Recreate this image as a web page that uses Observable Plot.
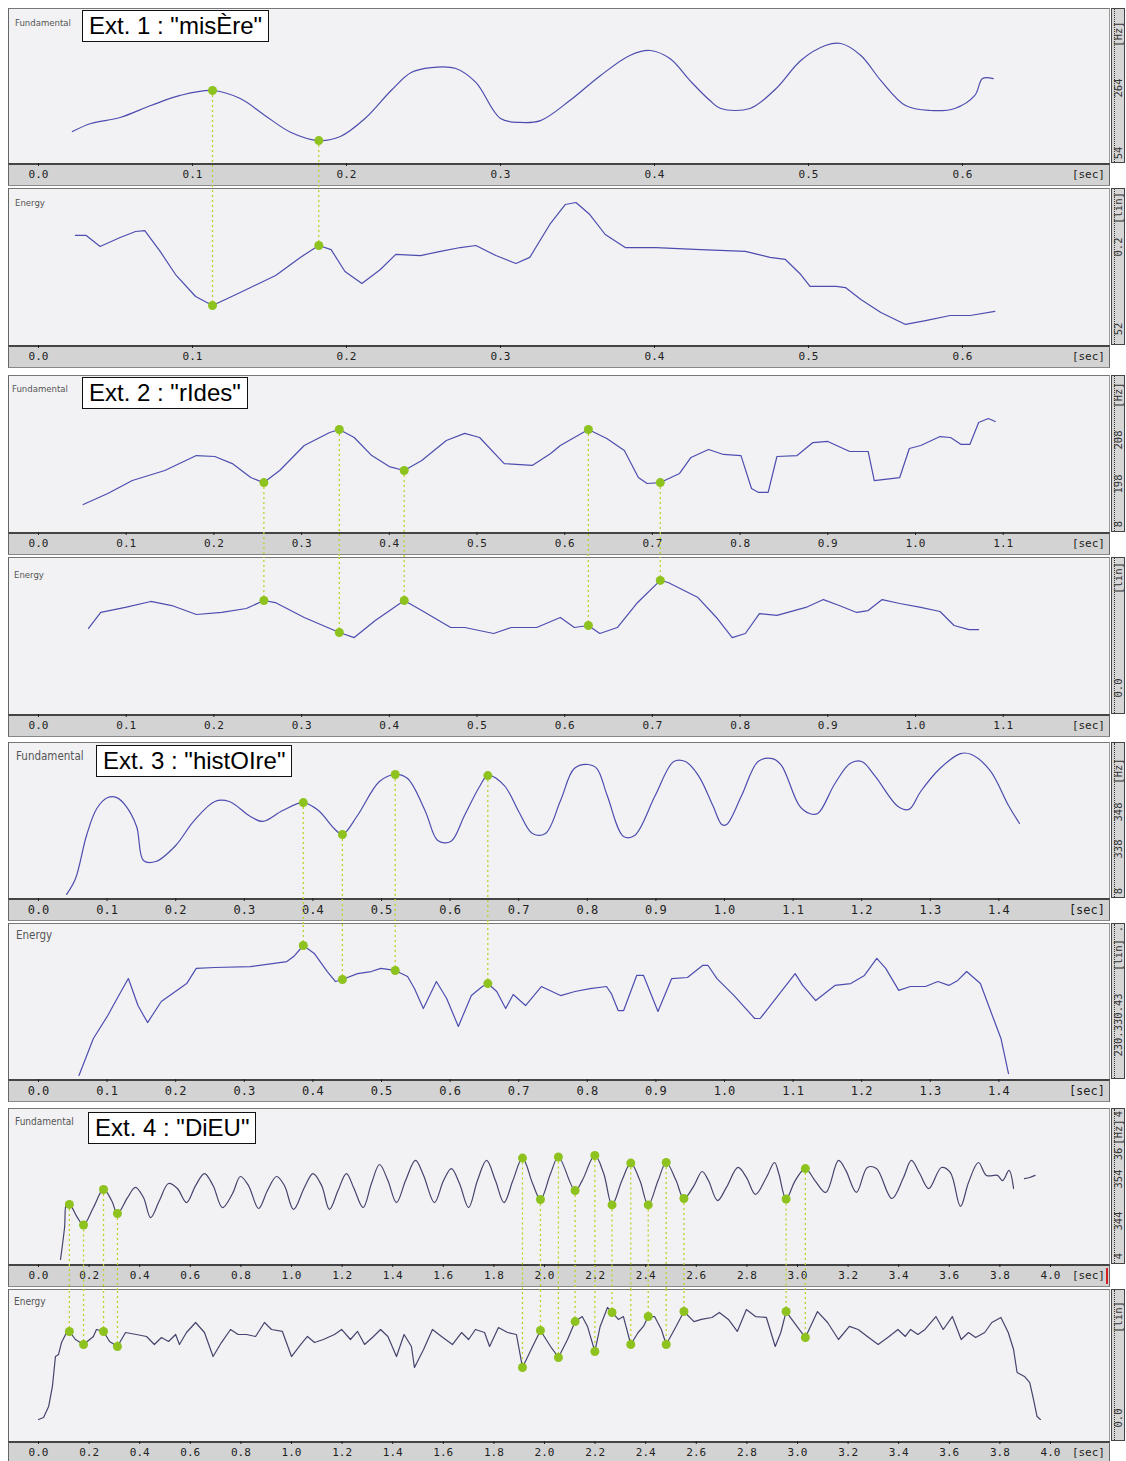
<!DOCTYPE html>
<html><head><meta charset="utf-8">
<script src="https://cdn.jsdelivr.net/npm/d3@7"></script>
<script src="https://cdn.jsdelivr.net/npm/@observablehq/plot@0.6"></script>
<style>
html,body{margin:0;padding:0;background:#fff}
body{width:1126px;height:1461px;overflow:hidden;position:relative;font-family:"Liberation Sans",Arial,sans-serif}
.a{position:absolute}
.pbg{background:#f2f2f4;border-left:1px solid #666;border-top:1px solid #777;border-right:1px solid #999;box-sizing:border-box}
.bar{background:#d3d3d3;border-top:2px solid #444;border-bottom:1px solid #888;border-left:1px solid #666;border-right:1px solid #666;box-sizing:border-box}
.strip{background:#d6d6d6;border:1px solid #444;box-sizing:border-box;overflow:hidden}
.strip .tk{position:absolute;left:0;top:0;bottom:0;width:2px;border-right:1px dotted #333}
.rl{position:absolute;left:50%;white-space:nowrap;font-family:"DejaVu Sans Mono",monospace;font-size:10.5px;color:#333;transform:translate(-50%,-50%) rotate(-90deg)}
.lab{font-family:"DejaVu Sans Condensed","DejaVu Sans",sans-serif;color:#555;white-space:nowrap}
.title{background:#fff;border:1.5px solid #111;font-size:24px;line-height:30px;padding:0 6px;color:#000;white-space:nowrap}
.sec{font-family:"DejaVu Sans Mono",monospace;color:#222;background:#d3d3d3;padding-left:3px;white-space:nowrap}
</style></head><body>
<script>
// ---------- data: time (s) , relative level (0 = panel bottom, 100 = panel top) ----------
const ext1Title = 'Ext. 1 : "misÈre"';
const ext1Ticks = [0, 0.1, 0.2, 0.3, 0.4, 0.5, 0.6];
const ext1Fundamental = [[0.022,20.6],[0.034,25.8],[0.053,29.7],[0.073,37.4],[0.092,43.9],[0.113,47.1],[0.131,41.9],[0.147,31.0],[0.164,20.0],[0.182,14.8],[0.196,17.4],[0.212,29.0],[0.229,47.1],[0.242,58.7],[0.255,61.9],[0.271,61.3],[0.284,52.3],[0.300,29.0],[0.313,26.5],[0.326,27.7],[0.345,40.6],[0.365,56.8],[0.384,69.7],[0.397,72.9],[0.410,67.7],[0.423,53.5],[0.436,40.6],[0.443,35.5],[0.462,35.5],[0.479,48.4],[0.495,66.5],[0.511,76.1],[0.521,77.4],[0.534,69.7],[0.547,53.5],[0.563,37.4],[0.579,34.2],[0.595,35.5],[0.608,43.9],[0.613,54.8],[0.620,54.8]];
const ext1Energy = [[0.024,70.1],[0.031,70.1],[0.040,63.1],[0.053,68.8],[0.063,72.6],[0.069,73.2],[0.079,59.9],[0.089,45.2],[0.102,31.2],[0.113,25.5],[0.131,33.8],[0.154,44.6],[0.170,56.1],[0.182,63.7],[0.190,61.1],[0.199,47.1],[0.210,39.5],[0.222,48.4],[0.232,58.0],[0.248,57.3],[0.261,59.9],[0.274,62.4],[0.284,63.7],[0.297,57.3],[0.310,52.2],[0.319,56.1],[0.332,77.1],[0.342,89.8],[0.349,91.1],[0.358,83.4],[0.368,70.7],[0.381,62.4],[0.401,62.4],[0.430,61.1],[0.459,59.9],[0.475,56.1],[0.485,54.8],[0.495,45.2],[0.501,37.6],[0.518,37.6],[0.524,36.9],[0.534,29.3],[0.547,21.0],[0.563,13.4],[0.576,15.9],[0.592,19.1],[0.605,19.1],[0.621,21.7]];
const ext1MarkTimes = [0.113, 0.182];
const ext1MarkF0 = [47.1, 14.8];
const ext1MarkEnergy = [25.5, 63.7];
const ext1F0Axis = [["54",7],["264",49],["[Hz]",84]];
const ext1EnergyAxis = [["52",11],["0.2",63],["[lin]",88]];

const ext2Title = 'Ext. 2 : "rIdes"';
const ext2Ticks = [0, 0.1, 0.2, 0.3, 0.4, 0.5, 0.6, 0.7, 0.8, 0.9, 1.0, 1.1];
const ext2Fundamental = [[0.051,17.8],[0.079,24.8],[0.107,33.1],[0.144,39.5],[0.180,49.0],[0.201,48.4],[0.221,43.9],[0.242,35.0],[0.257,31.8],[0.275,39.5],[0.303,55.4],[0.332,63.7],[0.343,65.6],[0.360,60.5],[0.380,49.0],[0.400,42.0],[0.417,39.5],[0.437,45.9],[0.465,58.6],[0.486,63.1],[0.503,60.5],[0.531,43.9],[0.563,42.7],[0.584,50.3],[0.595,55.4],[0.627,65.6],[0.648,59.9],[0.668,52.2],[0.684,35.0],[0.694,31.2],[0.709,31.8],[0.731,37.6],[0.744,47.8],[0.764,52.9],[0.781,49.7],[0.801,49.0],[0.813,28.0],[0.821,25.5],[0.832,25.5],[0.842,48.4],[0.865,49.0],[0.883,57.3],[0.900,58.0],[0.925,51.6],[0.946,51.6],[0.953,33.1],[0.982,35.0],[0.993,53.5],[1.006,55.4],[1.028,61.1],[1.040,60.5],[1.052,56.1],[1.062,56.1],[1.072,70.1],[1.083,72.6],[1.091,70.7]];
const ext2Energy = [[0.057,54.8],[0.071,65.0],[0.099,68.2],[0.128,72.0],[0.152,69.4],[0.180,63.7],[0.209,65.0],[0.237,67.5],[0.257,72.6],[0.270,71.3],[0.303,61.8],[0.343,52.2],[0.360,49.0],[0.384,59.9],[0.417,72.6],[0.437,66.2],[0.470,55.4],[0.486,55.4],[0.519,51.6],[0.539,55.4],[0.568,55.4],[0.595,61.8],[0.611,55.4],[0.627,56.7],[0.640,51.6],[0.660,55.4],[0.682,70.7],[0.709,85.4],[0.718,84.1],[0.752,74.5],[0.773,61.8],[0.791,49.0],[0.806,51.6],[0.822,64.3],[0.842,63.1],[0.875,68.2],[0.895,73.2],[0.913,69.4],[0.933,65.0],[0.946,66.2],[0.962,73.2],[0.982,70.7],[1.006,68.2],[1.028,65.6],[1.044,56.7],[1.061,54.1],[1.072,54.1]];
const ext2MarkTimes = [0.257, 0.343, 0.417, 0.627, 0.709];
const ext2MarkF0 = [31.8, 65.6, 39.5, 65.6, 31.8];
const ext2MarkEnergy = [72.6, 52.2, 72.6, 56.7, 85.4];
const ext2F0Axis = [["8",6],["198",31],["208",59],["[Hz]",88]];
const ext2EnergyAxis = [["0.0",17],["[lin]",87]];

const ext3Title = 'Ext. 3 : "histOIre"';
const ext3Ticks = [0, 0.1, 0.2, 0.3, 0.4, 0.5, 0.6, 0.7, 0.8, 0.9, 1.0, 1.1, 1.2, 1.3, 1.4];
const ext3Fundamental = [[0.041,2.6],[0.054,12.8],[0.070,40.4],[0.085,57.7],[0.101,64.7],[0.114,64.7],[0.127,59.6],[0.143,46.2],[0.153,24.4],[0.171,23.7],[0.200,34.0],[0.226,49.4],[0.257,62.2],[0.278,62.2],[0.309,52.6],[0.327,49.4],[0.356,56.4],[0.386,61.5],[0.408,56.4],[0.431,44.9],[0.443,41.0],[0.465,53.2],[0.497,75.0],[0.520,79.5],[0.538,76.9],[0.564,55.8],[0.582,37.2],[0.601,36.5],[0.621,53.2],[0.643,71.8],[0.655,78.8],[0.679,72.4],[0.700,55.8],[0.720,41.7],[0.739,41.7],[0.761,62.8],[0.781,83.3],[0.801,85.9],[0.814,83.3],[0.829,66.0],[0.853,39.7],[0.869,40.4],[0.899,66.0],[0.926,87.8],[0.943,87.8],[0.962,78.8],[0.983,59.6],[0.996,47.4],[1.003,47.4],[1.025,66.0],[1.049,87.8],[1.070,89.7],[1.083,85.3],[1.109,59.6],[1.124,54.5],[1.136,54.5],[1.161,73.7],[1.183,86.5],[1.200,87.8],[1.219,78.8],[1.253,59.0],[1.269,57.1],[1.286,68.6],[1.314,83.3],[1.344,92.9],[1.360,92.3],[1.387,82.1],[1.414,59.6],[1.430,48.1]];
const ext3Energy = [[0.059,2.6],[0.080,26.3],[0.101,41.0],[0.117,53.8],[0.131,64.7],[0.145,47.4],[0.159,36.5],[0.179,50.0],[0.216,61.5],[0.230,71.2],[0.257,71.8],[0.309,72.4],[0.362,75.6],[0.372,78.8],[0.386,85.9],[0.402,80.8],[0.421,69.2],[0.433,62.8],[0.443,64.1],[0.465,67.9],[0.485,69.2],[0.499,71.2],[0.520,69.9],[0.538,66.0],[0.548,58.3],[0.561,45.5],[0.580,62.8],[0.595,51.9],[0.612,34.0],[0.631,53.8],[0.647,59.6],[0.655,61.5],[0.668,56.4],[0.681,45.5],[0.692,54.5],[0.710,47.4],[0.733,59.6],[0.761,53.8],[0.782,56.4],[0.804,58.3],[0.828,59.6],[0.835,55.1],[0.845,44.2],[0.853,44.2],[0.872,66.7],[0.882,66.7],[0.903,43.6],[0.923,64.7],[0.946,65.4],[0.968,73.1],[0.976,73.1],[0.989,64.7],[1.014,53.8],[1.044,39.1],[1.052,39.1],[1.078,53.8],[1.103,67.9],[1.114,60.3],[1.133,50.6],[1.161,60.3],[1.184,61.5],[1.204,66.7],[1.222,77.6],[1.235,71.2],[1.254,57.1],[1.271,59.6],[1.293,59.6],[1.311,62.8],[1.327,60.3],[1.340,63.5],[1.353,69.2],[1.373,61.5],[1.392,39.1],[1.403,26.3],[1.414,3.8]];
const ext3MarkTimes = [0.386, 0.443, 0.520, 0.655];
const ext3MarkF0 = [61.5, 41.0, 79.5, 78.8];
const ext3MarkEnergy = [85.9, 64.1, 69.9, 61.5];
const ext3F0Axis = [["8",5],["338",32],["348",56],["[Hz]",82]];
const ext3EnergyAxis = [["230.330.43",35],["[lin]",80],[".",97]];

const ext4Title = 'Ext. 4 : "DiEU"';
const ext4Ticks = [0, 0.2, 0.4, 0.6, 0.8, 1.0, 1.2, 1.4, 1.6, 1.8, 2.0, 2.2, 2.4, 2.6, 2.8, 3.0, 3.2, 3.4, 3.6, 3.8, 4.0];
const ext4Fundamental = [[0.087,3.2],[0.103,23.7],[0.111,39.1],[0.124,38.5],[0.154,30.1],[0.178,25.3],[0.217,36.5],[0.257,48.1],[0.289,41.0],[0.312,32.7],[0.352,42.9],[0.383,49.4],[0.415,42.9],[0.443,30.1],[0.478,41.0],[0.514,51.9],[0.549,48.7],[0.585,39.7],[0.621,50.6],[0.656,58.3],[0.690,50.6],[0.727,36.5],[0.767,45.5],[0.798,56.4],[0.830,50.6],[0.870,35.9],[0.905,47.4],[0.941,56.4],[0.972,50.6],[1.008,35.3],[1.051,49.4],[1.085,58.3],[1.119,50.6],[1.150,35.3],[1.184,47.4],[1.217,58.3],[1.247,48.7],[1.283,36.5],[1.316,51.9],[1.348,64.1],[1.381,53.8],[1.415,39.7],[1.451,53.8],[1.490,66.7],[1.522,57.1],[1.565,39.7],[1.601,53.8],[1.632,61.5],[1.664,51.9],[1.700,36.5],[1.735,53.8],[1.771,66.7],[1.806,53.8],[1.840,39.7],[1.875,53.8],[1.913,68.2],[1.953,51.9],[1.984,41.7],[2.024,58.3],[2.055,68.9],[2.121,47.4],[2.149,53.8],[2.199,69.9],[2.234,58.3],[2.267,38.2],[2.306,53.8],[2.341,65.0],[2.377,53.8],[2.410,38.2],[2.449,53.8],[2.481,65.4],[2.520,53.8],[2.551,42.3],[2.591,50.6],[2.623,59.6],[2.648,53.8],[2.684,41.0],[2.719,49.4],[2.765,62.2],[2.798,55.8],[2.834,44.9],[2.877,55.8],[2.909,65.4],[2.926,58.3],[2.955,42.0],[2.991,53.8],[3.031,61.5],[3.069,53.8],[3.112,46.2],[3.162,66.7],[3.191,60.3],[3.233,46.2],[3.276,62.2],[3.312,61.5],[3.373,42.3],[3.419,55.8],[3.450,66.7],[3.483,58.3],[3.519,48.7],[3.569,62.2],[3.604,59.0],[3.644,37.2],[3.676,52.6],[3.715,65.4],[3.747,57.1],[3.790,57.1],[3.811,53.8],[3.836,60.3],[3.854,48.7],[3.870,null],[3.897,55.1],[3.918,55.8],[3.939,57.1]];
const ext4Energy = [[0.000,14.5],[0.020,15.8],[0.040,23.0],[0.055,36.2],[0.067,55.9],[0.079,57.2],[0.091,65.1],[0.111,71.7],[0.122,72.4],[0.146,67.1],[0.178,63.8],[0.217,69.1],[0.229,73.7],[0.257,72.4],[0.281,65.8],[0.312,62.5],[0.344,71.7],[0.387,70.4],[0.427,69.1],[0.458,63.8],[0.486,68.4],[0.514,65.8],[0.542,70.4],[0.557,63.8],[0.585,71.7],[0.621,78.3],[0.656,71.7],[0.690,55.9],[0.723,65.1],[0.759,73.7],[0.789,70.4],[0.822,70.4],[0.858,69.1],[0.893,78.3],[0.921,73.7],[0.964,72.4],[1.000,55.9],[1.036,63.8],[1.063,69.1],[1.091,65.1],[1.126,67.1],[1.170,70.4],[1.198,73.7],[1.233,67.1],[1.261,72.4],[1.289,63.8],[1.324,69.1],[1.352,73.7],[1.381,69.1],[1.415,55.9],[1.445,70.4],[1.474,62.5],[1.486,48.7],[1.522,60.5],[1.557,73.7],[1.593,69.1],[1.636,63.8],[1.672,71.7],[1.700,67.1],[1.727,73.7],[1.763,71.7],[1.783,62.5],[1.818,75.0],[1.854,71.7],[1.889,70.4],[1.913,48.7],[1.953,62.5],[1.984,73.0],[2.024,62.5],[2.055,55.3],[2.091,67.1],[2.121,78.9],[2.149,82.2],[2.170,75.7],[2.199,59.2],[2.220,75.7],[2.249,88.2],[2.267,84.9],[2.292,80.3],[2.312,82.2],[2.341,63.8],[2.370,71.7],[2.391,75.7],[2.410,82.2],[2.435,82.2],[2.462,73.7],[2.481,63.8],[2.520,75.7],[2.551,85.5],[2.591,78.9],[2.620,80.3],[2.662,81.6],[2.691,84.9],[2.727,80.3],[2.762,72.4],[2.798,86.8],[2.834,82.2],[2.877,81.6],[2.912,62.5],[2.934,71.7],[2.955,85.5],[2.998,75.7],[3.031,68.4],[3.079,85.5],[3.119,78.3],[3.162,67.1],[3.205,75.7],[3.240,73.7],[3.276,69.1],[3.319,63.8],[3.362,69.1],[3.397,73.7],[3.426,69.1],[3.447,73.7],[3.476,70.4],[3.504,73.7],[3.547,82.2],[3.576,73.7],[3.612,82.2],[3.647,67.1],[3.676,71.7],[3.704,68.4],[3.740,71.7],[3.768,78.3],[3.804,81.6],[3.833,71.7],[3.854,60.5],[3.868,45.4],[3.897,42.8],[3.918,38.8],[3.933,27.6],[3.947,16.4],[3.960,14.5]];
const ext4MarkTimes = [0.122,0.178,0.257,0.312,1.913,1.984,2.055,2.121,2.199,2.267,2.341,2.410,2.481,2.551,2.955,3.031];
const ext4MarkF0 = [38.5,25.3,48.1,32.7,68.2,41.7,68.9,47.4,69.9,38.2,65.0,38.2,65.4,42.3,42.0,61.5];
const ext4MarkEnergy = [72.4,63.8,72.4,62.5,48.7,73.0,55.3,78.9,59.2,84.9,63.8,82.2,63.8,85.5,85.5,68.4];
const ext4F0Axis = [["4",6],["344",28],["354",55],["36",71],["[Hz]",85],["4",97]];
const ext4EnergyAxis = [["0.0",16],["[lin]",82]];

const panelNames = ["Fundamental", "Energy"];

// ---------- layout ----------
const W = 1102, X0 = 8, BAR = 23, GAP = 2;
const sections = [
  {top: 8,    fH: 155, eH: 157, pps: 1540, fs: 11, title: ext1Title, ticks: ext1Ticks, f0: ext1Fundamental, en: ext1Energy, mt: ext1MarkTimes, mf: ext1MarkF0, me: ext1MarkEnergy, fAx: ext1F0Axis, eAx: ext1EnergyAxis, color: "#4d4db0", f0Curve: "catmull-rom", box: [82, 10], lf: [15,17,9.5], le: [15,197,9.5]},
  {top: 375,  fH: 157, eH: 157, pps: 877,  fs: 11, title: ext2Title, ticks: ext2Ticks, f0: ext2Fundamental, en: ext2Energy, mt: ext2MarkTimes, mf: ext2MarkF0, me: ext2MarkEnergy, fAx: ext2F0Axis, eAx: ext2EnergyAxis, color: "#4d4db0", f0Curve: "linear", box: [82, 377], lf: [12,383,9.5], le: [14,569,9.5]},
  {top: 742,  fH: 156, eH: 156, pps: 686,  fs: 12, title: ext3Title, ticks: ext3Ticks, f0: ext3Fundamental, en: ext3Energy, mt: ext3MarkTimes, mf: ext3MarkF0, me: ext3MarkEnergy, fAx: ext3F0Axis, eAx: ext3EnergyAxis, color: "#4d4db0", f0Curve: "catmull-rom", box: [96, 745], lf: [16,749,11.5], le: [16,928,11.5]},
  {top: 1108, fH: 156, eH: 152, pps: 253,  fs: 11, title: ext4Title, ticks: ext4Ticks, f0: ext4Fundamental, en: ext4Energy, mt: ext4MarkTimes, mf: ext4MarkF0, me: ext4MarkEnergy, fAx: ext4F0Axis, eAx: ext4EnergyAxis, color: "#44446e", f0Curve: "catmull-rom", box: [88, 1112], lf: [15,1116,10], le: [14,1296,10]}
];

function div(cls, css, text) {
  const d = document.createElement("div");
  d.className = cls;
  Object.assign(d.style, css);
  if (text != null) d.textContent = text;
  document.body.appendChild(d);
  return d;
}
const px = v => v + "px";

function panelPlot(s, series, marks, h, isF0) {
  const xDomain = [-30 / s.pps, (W - 30) / s.pps];
  const rule = isF0
    ? Plot.ruleX(marks, {x: "t", y1: "v", y2: 0, insetBottom: -(BAR + GAP + 1), stroke: "#bfd02c", strokeWidth: 1.3, strokeDasharray: "2,3"})
    : Plot.ruleX(marks, {x: "t", y1: "v", y2: 100, insetTop: -(GAP + 1), stroke: "#bfd02c", strokeWidth: 1.3, strokeDasharray: "2,3"});
  return Plot.plot({
    width: W, height: h + BAR,
    marginLeft: 0, marginRight: 0, marginTop: 0, marginBottom: BAR,
    x: {domain: xDomain, ticks: s.ticks, tickFormat: d => d.toFixed(1), tickSize: 3, tickPadding: 4, label: null},
    y: {domain: [0, 100], axis: null},
    style: {background: "transparent", overflow: "visible", fontFamily: "'DejaVu Sans Mono', monospace", fontSize: s.fs + "px", color: "#222"},
    marks: [
      rule,
      Plot.line(series, {x: d => d[0], y: d => d[1], stroke: s.color, strokeWidth: 1.2, curve: isF0 ? s.f0Curve : "linear"}),
      Plot.dot(marks, {x: "t", y: "v", r: 4.5, fill: "#8dc21f", stroke: "none"})
    ]
  });
}

function strip(top, h, labels) {
  const st = div("a strip", {left: "1111px", top: px(top), width: "14px", height: px(h)});
  const tk = document.createElement("div"); tk.className = "tk"; st.appendChild(tk);
  for (const [txt, v] of labels) {
    const l = document.createElement("div");
    l.className = "rl";
    l.style.top = px((1 - v / 100) * h);
    l.textContent = txt;
    st.appendChild(l);
  }
}

sections.forEach((s, k) => {
  const fTop = s.top, fBar = s.top + s.fH, eTop = fBar + BAR + GAP, eBar = eTop + s.eH;
  div("a pbg", {left: px(X0), top: px(fTop), width: px(W), height: px(s.fH)});
  div("a bar", {left: px(X0), top: px(fBar), width: px(W), height: px(BAR)});
  div("a pbg", {left: px(X0), top: px(eTop), width: px(W), height: px(s.eH)});
  div("a bar", {left: px(X0), top: px(eBar), width: px(W), height: px(BAR)});
  strip(fTop, s.fH, s.fAx);
  strip(eTop, s.eH, s.eAx);
  const mF = s.mt.map((t, i) => ({t, v: s.mf[i]}));
  const mE = s.mt.map((t, i) => ({t, v: s.me[i]}));
  const h1 = div("a", {left: px(X0), top: px(fTop)});
  h1.appendChild(panelPlot(s, s.f0, mF, s.fH, true));
  const h2 = div("a", {left: px(X0), top: px(eTop)});
  h2.appendChild(panelPlot(s, s.en, mE, s.eH, false));
  for (const b of [fBar, eBar]) {
    div("a sec", {right: px(1126 - 1105), top: px(b + 5), fontSize: s.fs + "px", lineHeight: "14px"}, "[sec]");
  }
  if (k === 3) div("a", {left: "1106px", top: px(fBar + 4), width: "2px", height: "16px", background: "#d02020"});
  div("a lab", {left: px(s.lf[0]), top: px(s.lf[1]), fontSize: px(s.lf[2])}, panelNames[0]);
  div("a lab", {left: px(s.le[0]), top: px(s.le[1]), fontSize: px(s.le[2])}, panelNames[1]);
  div("a title", {left: px(s.box[0]), top: px(s.box[1])}, s.title);
});
</script>
</body></html>
